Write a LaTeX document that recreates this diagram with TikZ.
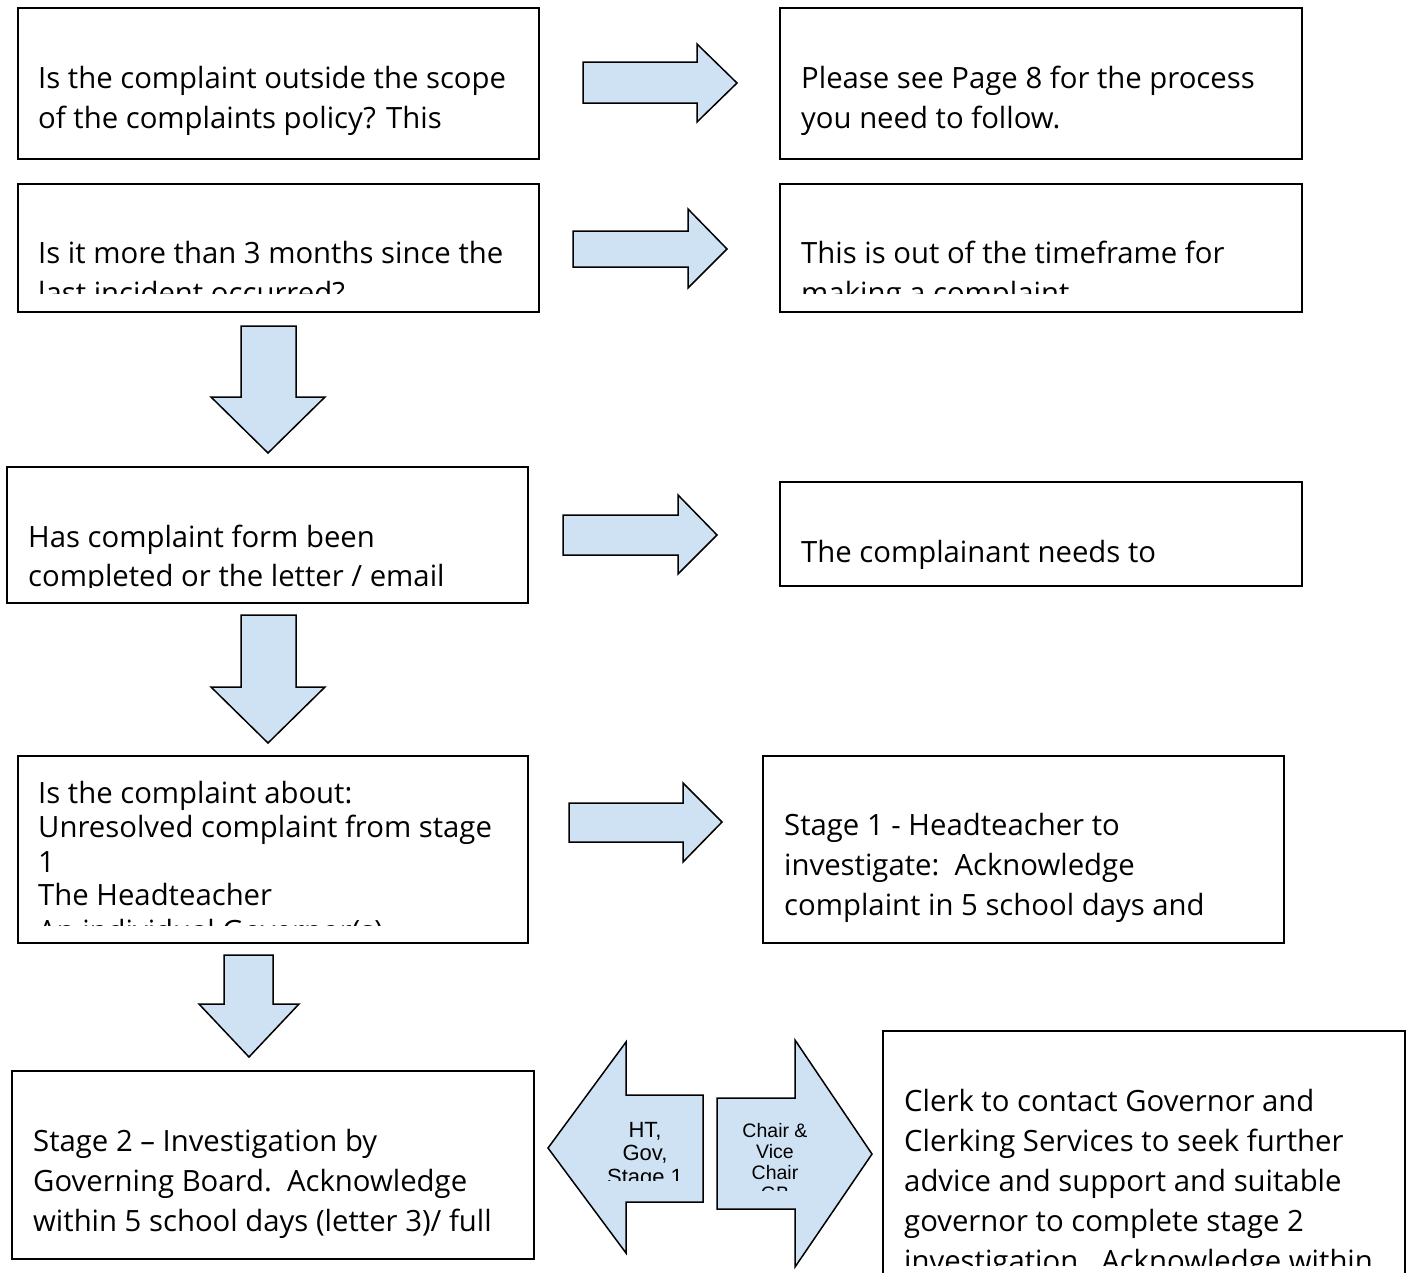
\documentclass[tikz,border=0pt]{standalone}
\usepackage{fontspec}
\setmainfont{Open Sans}
\newfontfamily\arialfont{Liberation Sans}
\definecolor{arrowblue}{HTML}{CFE2F3}
\tikzset{
  box/.style={draw, line width=1.8pt, fill=white, inner sep=0pt, outer sep=0pt, anchor=north west},
  blockarrow/.style={draw, line width=1.5pt, fill=arrowblue, line join=miter},
  boxtext/.style={anchor=base west, inner sep=0pt, font=\fontsize{29.3}{38}\selectfont},
  arrowtext/.style={anchor=base, inner sep=0pt, font=\arialfont\fontsize{22}{23}\selectfont},
}
\begin{document}
\begin{tikzpicture}[x=1pt,y=-1pt]
  \useasboundingbox (0,0) rectangle (1410,1272);
  % boxes
  \node[box, minimum width=521, minimum height=151] (q1) at (18,8) {};
  \node[box, minimum width=522, minimum height=151] (a1) at (780,8) {};
  \node[box, minimum width=521, minimum height=128] (q2) at (18,184) {};
  \node[box, minimum width=522, minimum height=128] (a2) at (780,184) {};
  \node[box, minimum width=521, minimum height=136] (q3) at (7,467) {};
  \node[box, minimum width=522, minimum height=104] (a3) at (780,482) {};
  \node[box, minimum width=510, minimum height=187] (q4) at (18,756) {};
  \node[box, minimum width=521, minimum height=187] (a4) at (763,756) {};
  \node[box, minimum width=522, minimum height=188] (q5) at (12,1071) {};
  \node[box, minimum width=522, minimum height=254] (a5) at (883,1031) {};

  % texts, cut off at the box bottoms
  \begin{scope}
    \clip (18,8) rectangle (539,150);
    \node[boxtext] (q1l1) at (38,88) {Is the complaint outside the scope};
    \node[boxtext] (q1l2) at (38,128) {of the complaints policy? This};
  \end{scope}
  \begin{scope}
    \clip (780,8) rectangle (1302,150);
    \node[boxtext] (a1l1) at (801,88) {Please see Page 8 for the process};
    \node[boxtext] (a1l2) at (801,128) {you need to follow.};
  \end{scope}
  \begin{scope}
    \clip (18,184) rectangle (539,293);
    \node[boxtext] (q2l1) at (38,263) {Is it more than 3 months since the};
    \node[boxtext] (q2l2) at (38,303) {last incident occurred?};
  \end{scope}
  \begin{scope}
    \clip (780,184) rectangle (1302,293);
    \node[boxtext] (a2l1) at (801,263) {This is out of the timeframe for};
    \node[boxtext] (a2l2) at (801,303) {making a complaint};
  \end{scope}
  \begin{scope}
    \clip (7,467) rectangle (528,587);
    \node[boxtext] (q3l1) at (28,547) {Has complaint form been};
    \node[boxtext] (q3l2) at (28,586) {completed or the letter / email};
  \end{scope}
  \begin{scope}
    \clip (780,482) rectangle (1302,575);
    \node[boxtext] (a3l1) at (801,562) {The complainant needs to};
  \end{scope}
  \begin{scope}
    \clip (18,756) rectangle (528,925);
    \node[boxtext] (q4l1) at (38,803) {Is the complaint about:};
    \node[boxtext] (q4l2) at (38,837) {Unresolved complaint from stage};
    \node[boxtext] (q4l3) at (38,872) {1};
    \node[boxtext] (q4l4) at (38,905) {The Headteacher};
    \node[boxtext] (q4l5) at (38,941) {An individual Governor(s)};
  \end{scope}
  \begin{scope}
    \clip (763,756) rectangle (1284,927);
    \node[boxtext] (a4l1) at (784,835) {Stage 1 - Headteacher to};
    \node[boxtext] (a4l2) at (784,875) {investigate:\ \ Acknowledge};
    \node[boxtext] (a4l3) at (784,915) {complaint in 5 school days and};
  \end{scope}
  \begin{scope}
    \clip (12,1071) rectangle (534,1250);
    \node[boxtext] (q5l1) at (33,1151) {Stage 2 – Investigation by};
    \node[boxtext] (q5l2) at (33,1191) {Governing Board.\ \ Acknowledge};
    \node[boxtext] (q5l3) at (33,1231) {within 5 school days (letter 3)/ full};
  \end{scope}
  \begin{scope}
    \clip (883,1031) rectangle (1405,1265);
    \node[boxtext] (a5l1) at (904,1111) {Clerk to contact Governor and};
    \node[boxtext] (a5l2) at (904,1151) {Clerking Services to seek further};
    \node[boxtext] (a5l3) at (904,1191) {advice and support and suitable};
    \node[boxtext] (a5l4) at (904,1231) {governor to complete stage 2};
    \node[boxtext] (a5l5) at (904,1271) {investigation.\ \ Acknowledge within};
  \end{scope}

  % block arrows, right
  \draw[blockarrow] (583,62) -- (697,62) -- (697,44) -- (737,83) -- (697,122) -- (697,103) -- (583,103) -- cycle;
  \draw[blockarrow] (573,231) -- (688,231) -- (688,209) -- (727,249) -- (688,288) -- (688,267) -- (573,267) -- cycle;
  \draw[blockarrow] (563,515) -- (678,515) -- (678,495) -- (717,535) -- (678,574) -- (678,555) -- (563,555) -- cycle;
  \draw[blockarrow] (569,803) -- (683,803) -- (683,783) -- (722,822) -- (683,862) -- (683,842) -- (569,842) -- cycle;
  % block arrows, down
  \draw[blockarrow] (241,326) -- (296,326) -- (296,397) -- (325,397) -- (268,453) -- (211,397) -- (241,397) -- cycle;
  \draw[blockarrow] (241,615) -- (296,615) -- (296,687) -- (325,687) -- (268,743) -- (211,687) -- (241,687) -- cycle;
  \draw[blockarrow] (224,955) -- (273,955) -- (273,1004) -- (299,1004) -- (249,1057) -- (199,1004) -- (224,1004) -- cycle;
  % block arrows, bottom pair
  \draw[blockarrow] (548,1148) -- (626,1042) -- (626,1095) -- (703,1095) -- (703,1202) -- (626,1202) -- (626,1253) -- cycle;
  \draw[blockarrow] (717,1098) -- (795,1098) -- (795,1040) -- (872,1154) -- (795,1267) -- (795,1209) -- (717,1209) -- cycle;
  \begin{scope}
    \clip (600,1100) rectangle (700,1180);
    \node[arrowtext] (ht1) at (645,1137) {HT,};
    \node[arrowtext] (ht2) at (645,1160) {Gov,};
    \node[arrowtext] (ht3) at (645,1184) {Stage 1};
  \end{scope}
  \begin{scope}[arrowtext/.append style={font=\arialfont\fontsize{19.5}{21}\selectfont}]
    \clip (720,1100) rectangle (830,1190);
    \node[arrowtext] (ch1) at (775,1137) {Chair \&};
    \node[arrowtext] (ch2) at (775,1158) {Vice};
    \node[arrowtext] (ch3) at (775,1179) {Chair};
    \node[arrowtext] (ch4) at (775,1200) {GB};
  \end{scope}
\end{tikzpicture}
\end{document}
